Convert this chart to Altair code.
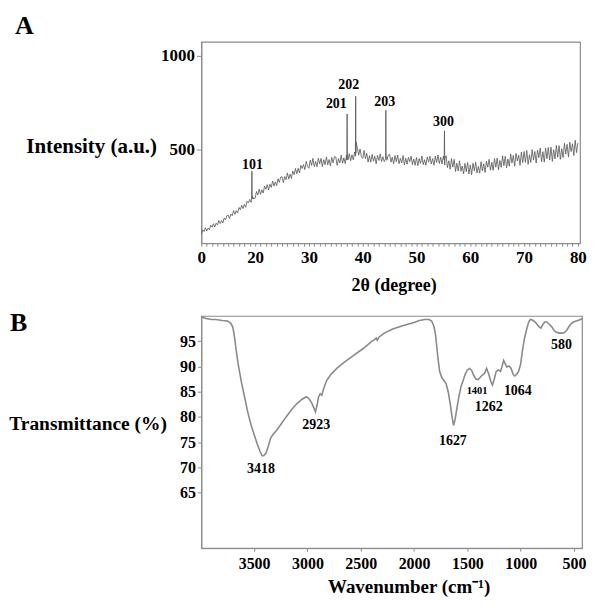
import altair as alt
import pandas as pd

SERIF = "Liberation Serif"

# ---------------- Panel A: XRD ----------------
xrd_start = 10.0
xrd_step = 0.25
xrd_intensity = [
    48, 72, 62, 83, 65, 81, 72, 97, 86, 104, 86, 107, 98, 121, 105, 121, 108, 135, 125, 146,
    150, 132, 156, 147, 174, 154, 174, 161, 191, 179, 203, 185, 207, 192, 224, 215, 234, 218, 251, 236,
    240, 276, 258, 289, 261, 285, 268, 305, 288, 313, 284, 315, 298, 332, 305, 328, 307, 344, 325, 353,
    355, 324, 356, 339, 375, 343, 369, 346, 385, 366, 399, 371, 400, 375, 416, 399, 420, 393, 437, 410,
    400, 444, 415, 453, 409, 436, 408, 454, 424, 453, 409, 446, 419, 461, 419, 447, 413, 458, 429, 462,
    460, 416, 452, 429, 470, 427, 456, 425, 470, 444, 478, 440, 472, 445, 487, 480, 510, 470, 503, 463,
    453, 496, 452, 480, 433, 467, 433, 474, 438, 464, 424, 469, 442, 477, 436, 462, 436, 481, 443, 471,
    474, 433, 460, 424, 468, 435, 471, 424, 453, 428, 468, 418, 454, 422, 459, 435, 465, 420, 450, 416,
    458, 414, 452, 426, 466, 420, 446, 416, 461, 433, 465, 423, 452, 416, 465, 431, 471, 425, 459, 423,
    465, 417, 467, 404, 440, 395, 452, 406, 448, 383, 427, 385, 440, 384, 412, 370, 426, 382, 431, 369,
    418, 366, 427, 387, 432, 375, 410, 374, 435, 387, 424, 378, 438, 406, 448, 390, 432, 389, 452, 406,
    455, 392, 442, 405, 467, 414, 464, 403, 450, 411, 477, 429, 469, 411, 479, 439, 470, 416, 487, 430,
    490, 431, 495, 421, 472, 431, 500, 444, 490, 428, 497, 457, 508, 435, 489, 433, 508, 451, 511, 444,
    513, 437, 499, 450, 522, 459, 521, 448, 505, 457, 534, 476, 528, 460, 540, 489, 531, 468, 550, 484,
    535,
]
xrd_angle = [xrd_start + xrd_step * i for i in range(len(xrd_intensity))]

peak_angle = [19.4, 37.1, 38.7, 44.3, 55.2]
peak_top = [385, 690, 785, 710, 600]
peak_left = [228, 445, 465, 450, 445]
peak_right = [236, 455, 540, 470, 450]
PEAK_HALF = 0.06

rows = [{"angle": a, "intensity": v} for a, v in zip(xrd_angle, xrd_intensity)]
for a, t, l, r in zip(peak_angle, peak_top, peak_left, peak_right):
    rows.append({"angle": a - PEAK_HALF, "intensity": l})
    rows.append({"angle": a, "intensity": t})
    rows.append({"angle": a + PEAK_HALF, "intensity": r})
xrd_df = pd.DataFrame(rows).sort_values("angle")

xrd_label_text = ["101", "201", "202", "203", "300"]
xrd_label_angle = [19.5, 35.1, 37.4, 44.1, 55.0]
xrd_label_int = [420, 745, 846, 755, 649]
xrd_lab_df = pd.DataFrame({"angle": xrd_label_angle, "intensity": xrd_label_int,
                           "label": xrd_label_text})

xrd_tick_values = list(range(10, 81))
xrd_y_ticks = [500, 1000]

# ---------------- Panel B: FTIR ----------------
ftir_wn = [3990, 3950, 3900, 3860, 3800, 3750, 3720, 3700, 3685, 3670, 3650, 3620,
           3590, 3560, 3530, 3500, 3470, 3445, 3425, 3410, 3390, 3370, 3345, 3320,
           3290, 3250, 3200, 3150, 3100, 3050, 3010, 2985, 2960, 2940, 2925, 2910,
           2895, 2880, 2865, 2850, 2820, 2780, 2720, 2650, 2560, 2480, 2400, 2370,
           2355, 2345, 2330, 2280, 2200, 2100, 2000, 1950, 1900, 1860, 1835, 1815,
           1800, 1790, 1775, 1760, 1740, 1720, 1700, 1680, 1660, 1645, 1630, 1615,
           1600, 1580, 1560, 1540, 1520, 1500, 1480, 1460, 1440, 1420, 1400, 1385,
           1360, 1340, 1320, 1300, 1280, 1265, 1250, 1230, 1210, 1190, 1175, 1160,
           1145, 1130, 1110, 1090, 1070, 1055, 1040, 1020, 1000, 985, 965, 945,
           925, 910, 890, 865, 845, 825, 810, 795, 775, 755, 735, 710,
           690, 670, 640, 610, 590, 570, 550, 530, 505, 480, 450, 420, 405]
ftir_t = [99.8, 99.5, 99.3, 99.3, 99.1, 99.0, 98.6, 97.8, 96.0, 93.5, 90.5, 87.0,
          84.0, 81.0, 78.5, 76.5, 74.6, 73.2, 72.3, 72.3, 72.8, 74.0, 75.8, 76.6,
          77.3, 78.5, 80.0, 81.4, 82.6, 83.5, 84.0, 83.6, 82.8, 81.8, 81.0, 82.3,
          84.0, 84.6, 84.3, 85.5, 87.2, 88.4, 89.7, 90.9, 92.3, 93.5, 94.9, 95.3,
          95.6, 95.2, 95.8, 96.6, 97.4, 98.1, 98.7, 99.1, 99.3, 99.3, 99.0, 98.0,
          96.5, 94.5, 91.5, 89.0, 87.8, 87.2, 86.6, 85.0, 82.5, 80.2, 78.3, 79.5,
          81.5, 84.0, 86.0, 87.2, 88.5, 89.3, 89.6, 89.2, 88.2, 87.5, 87.4, 87.7,
          88.3, 88.6, 89.6, 88.5, 87.0, 86.3, 87.3, 89.0, 89.3, 89.0, 90.0, 91.2,
          90.5, 89.9, 90.1, 89.6, 88.4, 88.1, 88.4, 89.0, 90.5, 93.0, 95.5, 97.3,
          98.8, 99.3, 99.2, 98.8, 98.3, 97.8, 97.6, 98.2, 98.8, 98.8, 98.4, 97.9,
          97.2, 96.8, 96.6, 96.6, 96.7, 97.1, 97.8, 98.4, 98.8, 99.0, 99.2, 99.5, 99.6]
ftir_df = pd.DataFrame({"wn": ftir_wn, "t": ftir_t})

ftir_label_text = ["3418", "2923", "1627", "1401", "1262", "1064", "580"]
ftir_label_wn = [3436, 2918, 1636, 1409, 1300, 1027, 618]
ftir_label_t = [69.6, 78.4, 75.3, 85.2, 81.9, 85.2, 94.2]
ftir_lab_df = pd.DataFrame({"wn": ftir_label_wn, "t": ftir_label_t, "label": ftir_label_text})

ftir_x_ticks = [3500, 3000, 2500, 2000, 1500, 1000, 500]
ftir_y_ticks = [65, 70, 75, 80, 85, 90, 95]

panel_letters = ["A", "B"]

# ---------------- Build charts ----------------
axis_common = dict(grid=False, domainColor="#8c8c8c", tickColor="#8c8c8c",
                   labelFont=SERIF, labelFontWeight="bold", labelColor="black",
                   titleFont=SERIF, titleFontWeight="bold", titleColor="black",
                   labelOverlap=False, labelFlush=False, labelBound=False)

xA = alt.X("angle:Q", scale=alt.Scale(domain=[10, 80.4], nice=False, zero=False),
           axis=alt.Axis(values=xrd_tick_values,
                         labelExpr="datum.value % 10 == 0 ? (datum.value == 10 ? '0' : datum.label) : ''",
                         tickSize=3, labelFontSize=17, labelPadding=3,
                         title="2θ (degree)", titleFontSize=18, titleX=193, titleY=42,
                         titleBaseline="middle", **axis_common))
yA = alt.Y("intensity:Q", scale=alt.Scale(domain=[0, 1075], nice=False),
           axis=alt.Axis(values=xrd_y_ticks, format="d", tickSize=5, labelFontSize=17,
                         labelPadding=2,
                         title="Intensity (a.u.)", titleFontSize=21, titleAngle=0,
                         titleAlign="right", titleBaseline="middle", titleX=-45, titleY=105,
                         **axis_common))

lineA = alt.Chart(xrd_df).mark_line(color="#555555", strokeWidth=0.8).encode(x=xA, y=yA)
textA = alt.Chart(xrd_lab_df).mark_text(font=SERIF, fontWeight="bold", fontSize=14,
                                        color="black").encode(x=xA, y=yA, text="label:N")
letterA = alt.Chart(pd.DataFrame({"letter": [panel_letters[0]]})).mark_text(
    font=SERIF, fontWeight="bold", fontSize=26, color="black", align="left",
    baseline="alphabetic").encode(x=alt.value(-187), y=alt.value(-8), text="letter:N")
chartA = alt.layer(lineA, textA, letterA).properties(width=380, height=202)

xB = alt.X("wn:Q", scale=alt.Scale(domain=[425, 3995], reverse=True, nice=False, zero=False),
           axis=alt.Axis(values=ftir_x_ticks, format="d", tickSize=3, labelFontSize=16,
                         labelPadding=4,
                         title="Wavenumber (cm⁻¹)", titleFontSize=19, titleX=208, titleY=38,
                         titleBaseline="middle", **axis_common))
yB = alt.Y("t:Q", scale=alt.Scale(domain=[54, 100], nice=False, zero=False),
           axis=alt.Axis(values=ftir_y_ticks, tickSize=4, labelFontSize=16, labelPadding=2,
                         title="Transmittance (%)", titleFontSize=19.5, titleAngle=0,
                         titleAlign="right", titleBaseline="middle", titleX=-35, titleY=108,
                         **axis_common))

lineB = alt.Chart(ftir_df).mark_line(color="#8a8a8a", strokeWidth=1.6, clip=True).encode(
    x=xB, y=yB)
textB = alt.Chart(ftir_lab_df).transform_filter("datum.label != '1401'").mark_text(
    font=SERIF, fontWeight="bold", fontSize=14, color="black").encode(
    x=xB, y=yB, text="label:N")
textB2 = alt.Chart(ftir_lab_df).transform_filter("datum.label == '1401'").mark_text(
    font=SERIF, fontWeight="bold", fontSize=10.5, color="black").encode(
    x=xB, y=yB, text="label:N")
letterB = alt.Chart(pd.DataFrame({"letter": [panel_letters[1]]})).mark_text(
    font=SERIF, fontWeight="bold", fontSize=26, color="black", align="left",
    baseline="alphabetic").encode(x=alt.value(-192), y=alt.value(15), text="letter:N")
chartB = alt.layer(lineB, textB, textB2, letterB).properties(width=382, height=233)

chart = alt.vconcat(chartA, chartB, spacing=14).properties(
    padding={"left": 0, "top": 3, "right": 0, "bottom": 0}
).configure_view(stroke="#8c8c8c", strokeWidth=1.2
).configure_axis(labelOverlap=False)

chart.save("out.html", embed_options={"renderer": "svg", "actions": False})
